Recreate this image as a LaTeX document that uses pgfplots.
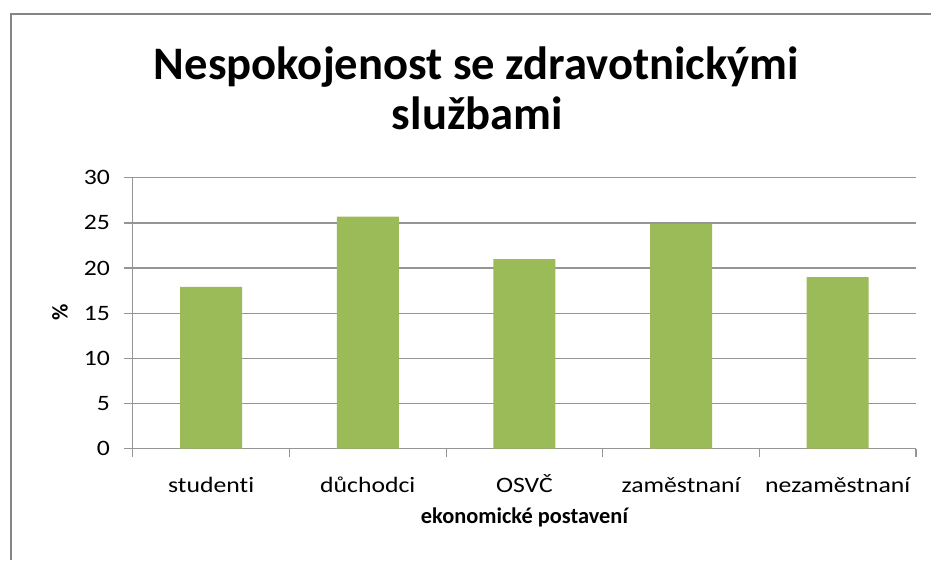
\documentclass[border=0pt]{standalone}
\usepackage{fontspec}
\setmainfont{Carlito}[Ligatures=NoCommon]
\newfontfamily\tickfont{Carlito}[FakeStretch=1.17,Ligatures=NoCommon]
\usepackage{pgfplots}
\pgfplotsset{compat=1.18}
\definecolor{bargreen}{HTML}{9BBB59}
\definecolor{gridgray}{HTML}{959595}
\definecolor{framegray}{HTML}{858585}
\begin{document}
\begin{tikzpicture}[x=0.75pt,y=0.75pt]
\path (0,0) rectangle (932,561);
\draw[framegray,line width=1.5pt] (11,0) -- (11,547) -- (932,547);
\node[anchor=base,font=\fontsize{35}{40}\selectfont\bfseries] at (477,481) {Nespokojenost se zdravotnickými};
\node[anchor=base,font=\fontsize{35}{40}\selectfont\bfseries] at (478,431) {službami};
\node[anchor=base,font=\fontsize{16.8}{18}\selectfont\bfseries] at (525,37) {ekonomické postavení};
\node[rotate=90,font=\fontsize{16.8}{18}\selectfont\bfseries] at (60,248) {\%};
\begin{axis}[
at={(99.75pt,84pt)},anchor=south west,
scale only axis,width=588pt,height=203.25pt,
xmin=-0.5,xmax=4.5,ymin=0,ymax=30,
ytick={0,5,...,30},
xtick={0,1,2,3,4},
xticklabels={studenti,důchodci,OSVČ,zaměstnaní,nezaměstnaní},
minor xtick={-0.5,0.5,...,4.5},
major x tick style={draw=none},
tick align=outside,
major tick length=6.75pt,minor tick length=6pt,
tick style={gridgray,line width=0.9pt},
axis x line*=bottom,axis y line*=left,
axis line style={gridgray,line width=0.9pt},
ymajorgrids,major grid style={gridgray,line width=1pt},
/pgf/number format/assume math mode=true,
ticklabel style={font=\tickfont\fontsize{16.5}{18}\selectfont},
yticklabel style={xshift=-7pt},
xticklabel style={anchor=base,yshift=-26pt},
]
\addplot[ybar,bar width=46.5pt,fill=bargreen,draw=none] coordinates {(0,17.9) (1,25.7) (2,21.0) (3,24.9) (4,19.0)};
\end{axis}
\end{tikzpicture}
\end{document}
